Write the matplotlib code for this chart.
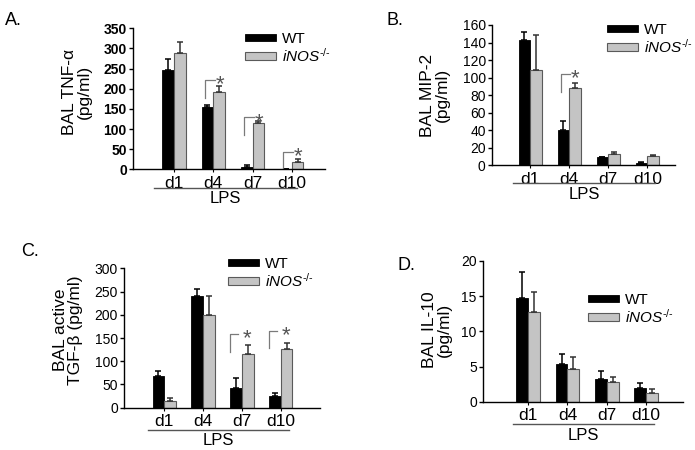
import matplotlib
matplotlib.use('Agg')
import matplotlib.pyplot as plt
from matplotlib.patches import Patch
from matplotlib.transforms import blended_transform_factory, ScaledTranslation
import numpy as np

plt.rcParams['font.family'] = ['Liberation Sans', 'DejaVu Sans']
plt.rcParams['mathtext.fontset'] = 'custom'
plt.rcParams['mathtext.rm'] = 'Liberation Sans'
plt.rcParams['mathtext.it'] = 'Liberation Sans:italic'

# ---------------- data ----------------
days = ['d1', 'd4', 'd7', 'd10']
group_label = 'LPS'
series_names = ['WT', r'$\mathit{iNOS}^{\mathit{\text{-}/\text{-}}}$']

# A. TNF-alpha
tnf_wt = [247, 155, 6, 1]
tnf_wt_err = [27, 5, 5, 0]
tnf_ko = [289, 193, 114, 19]
tnf_ko_err = [26, 13, 7, 6]
tnf_sig = [1, 2, 3]            # groups with asterisk
tnf_sig_lo = [176, 85, 3]      # bracket bottom
tnf_sig_hi = [222, 129, 44]    # bracket top

# B. MIP-2
mip_wt = [143, 40, 9, 3]
mip_wt_err = [9.5, 10.5, 0.8, 0.4]
mip_ko = [108.5, 88.5, 12.5, 10.6]
mip_ko_err = [40, 5, 3, 1.1]
mip_sig = [1]
mip_sig_lo = [84]
mip_sig_hi = [104]

# C. active TGF-beta
tgf_wt = [68, 240, 43, 26]
tgf_wt_err = [10, 15, 20, 6]
tgf_ko = [14.5, 199, 115, 126]
tgf_ko_err = [7, 42, 21, 13]
tgf_sig = [2, 3]
tgf_sig_lo = [120, 128]
tgf_sig_hi = [158, 165]

# D. IL-10
il10_wt = [14.8, 5.35, 3.27, 2.0]
il10_wt_err = [3.7, 1.45, 1.1, 0.7]
il10_ko = [12.7, 4.6, 2.75, 1.28]
il10_ko_err = [2.9, 1.8, 0.8, 0.5]
il10_sig = []
il10_sig_lo = []
il10_sig_hi = []

# ---------------- layout ----------------
W, H = 695, 450
fig = plt.figure(figsize=(W / 100, H / 100), dpi=100)

BLACK = '#000000'
GRAY = '#c4c4c4'
GRAY_EDGE = '#5a5a5a'
BRACKET = '#7a7a7a'

panels = [
    dict(letter='A.', lpos=(5, 12), box=(133, 28.3, 325, 169.3), xlim=(-1.05, 3.85),
         ylim=350, ystep=50, ylabel='BAL TNF-α\n(pg/ml)', ylab=(77, 92),
         wt=tnf_wt, wte=tnf_wt_err, ko=tnf_ko, koe=tnf_ko_err,
         sig=tnf_sig, slo=tnf_sig_lo, shi=tnf_sig_hi, br=(-0.21, 0.04, 0.16),
         bold=True, leg=(245, 32), under=(-0.51, 3.14), uy=(18.7, 29.5)),
    dict(letter='B.', lpos=(386, 12), box=(492, 25, 675, 165.3), xlim=(-0.98, 3.71),
         ylim=160, ystep=20, ylabel='BAL MIP-2\n(pg/ml)', ylab=(435, 95),
         wt=mip_wt, wte=mip_wt_err, ko=mip_ko, koe=mip_ko_err,
         sig=mip_sig, slo=mip_sig_lo, shi=mip_sig_hi, br=(-0.21, 0.03, 0.16),
         bold=False, leg=(607, 23), under=(-0.44, 3.2), uy=(18, 29.5)),
    dict(letter='C.', lpos=(21, 243), box=(124.3, 268.3, 320, 407.7), xlim=(-1.03, 4.01),
         ylim=300, ystep=50, ylabel='BAL active\nTGF-β (pg/ml)', ylab=(68, 330),
         wt=tgf_wt, wte=tgf_wt_err, ko=tgf_ko, koe=tgf_ko_err,
         sig=tgf_sig, slo=tgf_sig_lo, shi=tgf_sig_hi, br=(-0.3, -0.1, 0.13),
         bold=False, leg=(228, 257), under=(-0.41, 3.2), uy=(22.3, 33)),
    dict(letter='D.', lpos=(398, 257), box=(483, 261, 683, 401.7), xlim=(-1.15, 3.94),
         ylim=20, ystep=5, ylabel='BAL IL-10\n(pg/ml)', ylab=(437, 330),
         wt=il10_wt, wte=il10_wt_err, ko=il10_ko, koe=il10_ko_err,
         sig=il10_sig, slo=il10_sig_lo, shi=il10_sig_hi, br=(-0.2, 0.05, 0.16),
         bold=False, leg=(588, 293), under=(-0.38, 3.2), uy=(22.3, 34)),
]

x = np.arange(len(days))
bw = 0.3

for p in panels:
    l, t, r, b = p['box']
    ax = fig.add_axes([l / W, (H - b) / H, (r - l) / W, (b - t) / H])
    hpx = b - t
    wpx = r - l
    wt = np.array(p['wt']); ko = np.array(p['ko'])
    ax.bar(x - bw / 2, wt, bw, color=BLACK, edgecolor=BLACK, linewidth=0.6,
           yerr=[np.zeros_like(wt), p['wte']], capsize=2.5,
           error_kw=dict(ecolor=BLACK, elinewidth=1.1, capthick=1.1), label=series_names[0])
    ax.bar(x + bw / 2, ko, bw, color=GRAY, edgecolor=GRAY_EDGE, linewidth=0.8,
           yerr=[np.zeros_like(ko), p['koe']], capsize=2.5,
           error_kw=dict(ecolor='#333333', elinewidth=1.1, capthick=1.1), label=series_names[1])

    ax.set_xlim(*p['xlim'])
    ax.set_ylim(0, p['ylim'])
    ax.set_yticks(np.arange(0, p['ylim'] + 0.001, p['ystep']))
    ax.set_xticks(x)
    ax.set_xticklabels(days, fontsize=12.5)
    for s in ['top', 'right']:
        ax.spines[s].set_visible(False)
    for s in ['left', 'bottom']:
        ax.spines[s].set_linewidth(1.0)
    ax.tick_params(axis='y', length=3, width=1, pad=1.5, labelsize=10)
    ax.tick_params(axis='x', length=2.5, width=0.8, pad=2)
    if p['bold']:
        for lab in ax.get_yticklabels():
            lab.set_fontweight('bold')

    ax.set_ylabel(p['ylabel'], fontsize=12.5, linespacing=1.0, va='center', ha='center')
    lxp, lyp = p['ylab']
    ax.yaxis.set_label_coords((lxp - l) / wpx, (b - lyp) / hpx)

    # significance brackets
    bx0, bx1, sx = p['br']
    for g, lo, hi in zip(p['sig'], p['slo'], p['shi']):
        ax.plot([g + bx0, g + bx0, g + bx1], [lo, hi, hi], color=BRACKET, lw=0.9,
                clip_on=False)
        ax.text(g + sx, hi, '*', color='#555555', fontsize=16, ha='center', va='center',
                transform=ax.transData + ScaledTranslation(0, -3.5 / 72, fig.dpi_scale_trans))

    # LPS underline & label
    tr = blended_transform_factory(ax.transData, ax.transAxes)
    u0, u1 = p['under']
    uy1 = -p['uy'][0] / hpx
    uy2 = -p['uy'][1] / hpx
    ax.plot([u0, u1], [uy1, uy1], color='#555555', lw=1.0, transform=tr, clip_on=False)
    ax.text((u0 + u1) / 2, uy2, group_label, fontsize=12, ha='center', va='center',
            transform=tr)

    # legend
    lx, ly = p['leg']
    handles = [Patch(facecolor=BLACK, edgecolor=BLACK, linewidth=0.6),
               Patch(facecolor=GRAY, edgecolor=GRAY_EDGE, linewidth=0.8)]
    ax.legend(handles, series_names, loc='upper left',
              bbox_to_anchor=(lx / W, (H - ly) / H), bbox_transform=fig.transFigure,
              frameon=False, fontsize=11, handlelength=2.0, handleheight=0.4,
              handletextpad=0.4, labelspacing=0.02, borderpad=0, borderaxespad=0)

    fig.text(p['lpos'][0] / W, (H - p['lpos'][1]) / H, p['letter'], fontsize=13,
             ha='left', va='top')

fig.savefig('out.png', dpi=100)
